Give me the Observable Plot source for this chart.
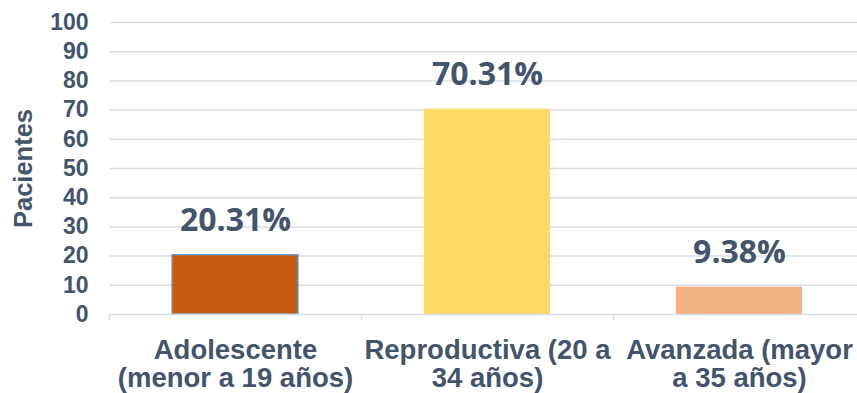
<!DOCTYPE html>
<html>
<head>
<meta charset="utf-8">
<script src="https://cdn.jsdelivr.net/npm/d3@7"></script>
<script src="https://cdn.jsdelivr.net/npm/@observablehq/plot@0.6"></script>
<style>
  html, body { margin: 0; padding: 0; background: #fff; }
  #chart svg { display: block; }
</style>
</head>
<body>
<div id="chart"></div>
<script>
// Age groups of the patients and their share (%)
const categories = [
  "Adolescente\n(menor a 19 años)",
  "Reproductiva (20 a\n34 años)",
  "Avanzada (mayor\na 35 años)"
];
const values = [20.31, 70.31, 9.38];
const colors = ["#C55A11", "#FFD966", "#F4B183"];
const yTicks = [0, 10, 20, 30, 40, 50, 60, 70, 80, 90, 100];

const data = categories.map((c, i) => ({category: c, value: values[i], color: colors[i]}));

const ink = "#44546A";
const grid = "#D9DDE3";
const sans = "Liberation Sans, Arial, sans-serif";

const chart = Plot.plot({
  width: 857,
  height: 393,
  marginTop: 22,
  marginBottom: 79,
  marginLeft: 110,
  marginRight: 0,
  style: {fontFamily: sans, background: "#fff"},
  x: {domain: categories, range: [109, 865], paddingInner: 0.5, paddingOuter: 0.25, label: null},
  y: {domain: [0, 100], label: null},
  marks: [
    Plot.ruleY(yTicks.filter(d => d > 0), {stroke: grid, strokeWidth: 1.5}),
    Plot.barY(data, {
      x: "category", y: "value", fill: "color",
      stroke: d => d.value === values[0] ? "#5B9BD5" : "none",
      strokeWidth: 1.2
    }),
    Plot.ruleY([0], {stroke: grid, strokeWidth: 1.5}),
    // small ticks at the left edge of each category band
    Plot.ruleX(categories, {
      x: d => d, dx: -126, y1: 0, y2: 0, insetBottom: -6,
      stroke: grid, strokeWidth: 1.5
    }),
    Plot.axisY({
      ticks: yTicks, tickSize: 0, tickPadding: 22,
      fontSize: 23, fontWeight: "bold", fill: ink, label: null
    }),
    Plot.axisX({
      tickSize: 0, tickPadding: 24, fontSize: 27.5, fontWeight: "bold",
      fill: ink, label: null, lineHeight: 1.03
    }),
    Plot.text(data, {
      x: "category", y: "value", text: d => d.value.toFixed(2) + "%",
      dy: -34, fontSize: 32, fontWeight: "bold", fill: ink,
      fontFamily: "Open Sans, Liberation Sans, sans-serif"
    }),
    Plot.text(["Pacientes"], {
      frameAnchor: "left", textAnchor: "middle", dx: -87, rotate: -90,
      fontSize: 25.5, fontWeight: "bold", fill: ink
    })
  ]
});

document.getElementById("chart").appendChild(chart);
</script>
</body>
</html>
